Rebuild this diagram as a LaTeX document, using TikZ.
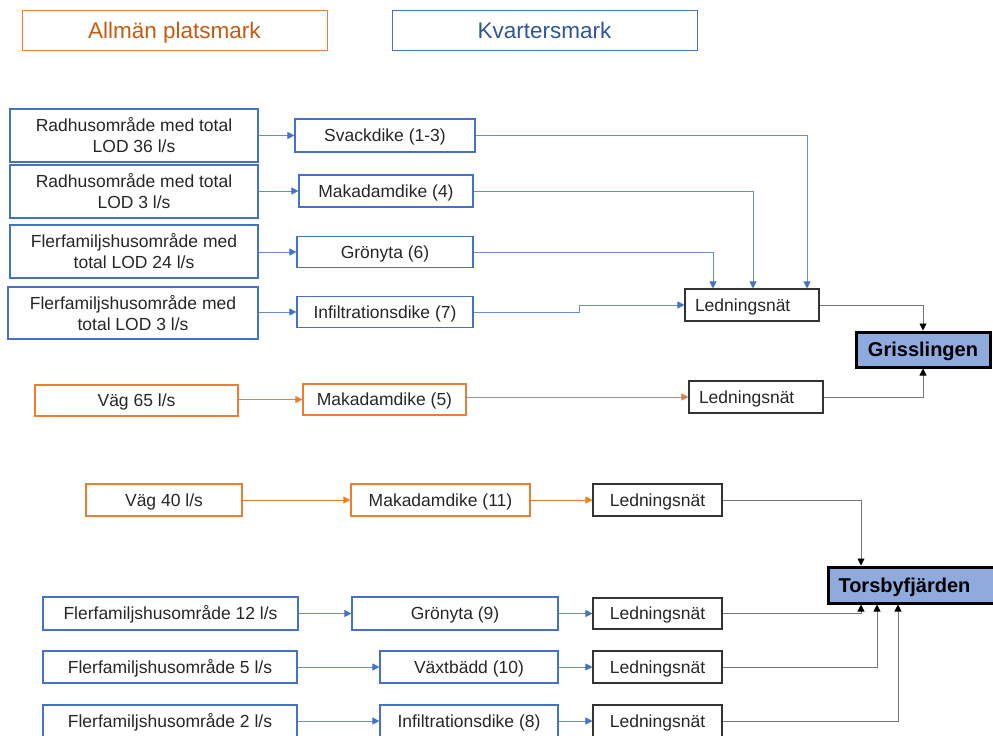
\documentclass[tikz,border=0pt]{standalone}
\usepackage{fontspec}
\setmainfont{Liberation Sans}
\usepackage{xcolor}
\definecolor{kvblue}{RGB}{68,114,196}
\definecolor{kvdark}{RGB}{47,85,151}
\definecolor{plorange}{RGB}{237,125,49}
\definecolor{pldark}{RGB}{197,90,17}
\definecolor{netgray}{RGB}{118,118,118}
\definecolor{recfill}{RGB}{143,170,220}
\usepackage{tikz}
\usetikzlibrary{arrows.meta}
\newcommand{\txtsize}{\fontsize{17.5}{21}\selectfont}
\newcommand{\headsize}{\fontsize{22.5}{26}\selectfont}
\newcommand{\recsize}{\fontsize{20}{24}\selectfont\bfseries}
\tikzset{
    common/.style={draw, rectangle, inner sep=0pt, font=\txtsize, text=black!85},
    one/.style={text height=12.6pt, text depth=0pt},
    kvbox/.style={common, draw=kvblue, line width=1.2pt},
    srcbox/.style={kvbox, align=center},
    kvline/.style={kvbox, one},
    plbox/.style={common, one, draw=plorange, line width=1.2pt},
    netbox/.style={common, one, draw=black!80, line width=1.1pt},
    netleft/.style={netbox, align=left, inner xsep=10pt},
    recipient/.style={common, draw=black, fill=recfill, line width=3pt, font=\recsize, text=black, text height=14.4pt, text depth=0pt},
    headbox/.style={common, line width=1pt, font=\headsize, text height=16.2pt, text depth=0pt, minimum width=305pt, minimum height=40pt},
    blueflow/.style={draw=kvblue!80, line width=0.9pt, -{Triangle[length=7pt, width=7pt, color=kvblue]}},
    orangeflow/.style={draw=plorange, line width=0.9pt, -{Triangle[length=7pt, width=7pt, color=plorange]}},
    netflow/.style={draw=netgray, line width=0.9pt, -{Triangle[length=7pt, width=7pt, color=black]}}
}
\begin{document}
\begin{tikzpicture}[x=1pt, y=-1pt]
    \useasboundingbox (0,0) rectangle (993,736);

    \node[headbox, draw=plorange, text=pldark] (hpl) at (174.5,30) {Allmän platsmark};
    \node[headbox, draw=kvblue, text=kvdark] (hkv) at (544.5,30) {Kvartersmark};

    \node[srcbox, minimum width=248pt, minimum height=53pt] (src1) at (134,135.5) {Radhusområde med total\\LOD 36 l/s};
    \node[srcbox, minimum width=248pt, minimum height=53pt] (src2) at (134,191.5) {Radhusområde med total\\LOD 3 l/s};
    \node[srcbox, minimum width=248pt, minimum height=53pt] (src3) at (134,251.5) {Flerfamiljshusområde med\\total LOD 24 l/s};
    \node[srcbox, minimum width=250pt, minimum height=52pt] (src4) at (133,313) {Flerfamiljshusområde med\\total LOD 3 l/s};

    \node[kvline, minimum width=180pt, minimum height=33pt] (mid1) at (385,135.5) {Svackdike (1-3)};
    \node[kvline, minimum width=174pt, minimum height=32pt] (mid2) at (386,191) {Makadamdike (4)};
    \node[kvline, minimum width=176pt, minimum height=31pt] (mid3) at (385,252) {Grönyta (6)};
    \node[kvline, minimum width=176pt, minimum height=31pt] (mid4) at (385,312) {Infiltrationsdike (7)};

    \node[netleft, text width=114pt, minimum height=32pt] (net1) at (752,305) {Ledningsnät};
    \node[recipient, minimum width=134pt, minimum height=35pt] (gris) at (923,349.5) {Grisslingen};

    \node[plbox, minimum width=203pt, minimum height=31pt] (road1) at (136.5,400.5) {Väg 65 l/s};
    \node[plbox, minimum width=163pt, minimum height=31pt] (mid5) at (384.5,399.5) {Makadamdike (5)};
    \node[netleft, text width=114pt, minimum height=32pt] (net2) at (756,397) {Ledningsnät};

    \draw[blueflow] (src1.east |- mid1.west) -- (mid1.west);
    \draw[blueflow] (src2.east |- mid2.west) -- (mid2.west);
    \draw[blueflow] (src3.east |- mid3.west) -- (mid3.west);
    \draw[blueflow] (src4.east |- mid4.west) -- (mid4.west);
    \draw[blueflow] (mid1.east) -| ([xshift=55pt]net1.north);
    \draw[blueflow] (mid2.east) -| ([xshift=1pt]net1.north);
    \draw[blueflow] (mid3.east) -| ([xshift=-39pt]net1.north);
    \draw[blueflow] (mid4.east) -- ++(106,0) |- (net1.west);
    \draw[orangeflow] (road1.east |- mid5.west) -- (mid5.west);
    \draw[orangeflow] (mid5.east |- net2.west) -- (net2.west);
    \draw[netflow] (net1.east) -| (gris.north);
    \draw[netflow] (net2.east) -| (gris.south);

    \node[plbox, minimum width=156pt, minimum height=32pt] (road2) at (164,500) {Väg 40 l/s};
    \node[plbox, minimum width=179pt, minimum height=32pt] (mid11) at (440.5,500) {Makadamdike (11)};
    \node[netbox, minimum width=129pt, minimum height=32pt] (netA) at (657.5,500) {Ledningsnät};

    \node[recipient, anchor=west, align=left, text width=155pt, inner xsep=10pt, minimum height=36pt] (tors) at (827,585) {Torsbyfjärden};

    \node[kvline, minimum width=255pt, minimum height=33pt] (area12) at (170.5,613.5) {Flerfamiljshusområde 12 l/s};
    \node[kvline, minimum width=206pt, minimum height=33pt] (mid9) at (455,613.5) {Grönyta (9)};
    \node[netbox, minimum width=129pt, minimum height=31pt] (netB) at (657.5,613.5) {Ledningsnät};

    \node[kvline, minimum width=254pt, minimum height=32pt] (area5) at (170,667) {Flerfamiljshusområde 5 l/s};
    \node[kvline, minimum width=178pt, minimum height=32pt] (mid10) at (469,667) {Växtbädd (10)};
    \node[netbox, minimum width=129pt, minimum height=32pt] (netC) at (657.5,667) {Ledningsnät};

    \node[kvline, minimum width=254pt, minimum height=32pt] (area2) at (170,721) {Flerfamiljshusområde 2 l/s};
    \node[kvline, minimum width=178pt, minimum height=32pt] (mid8) at (469,721) {Infiltrationsdike (8)};
    \node[netbox, minimum width=129pt, minimum height=32pt] (netD) at (657.5,721) {Ledningsnät};

    \draw[orangeflow] (road2) -- (mid11);
    \draw[orangeflow] (mid11) -- (netA);
    \draw[blueflow] (area12) -- (mid9);
    \draw[blueflow] (mid9) -- (netB);
    \draw[blueflow] (area5) -- (mid10);
    \draw[blueflow] (mid10) -- (netC);
    \draw[blueflow] (area2) -- (mid8);
    \draw[blueflow] (mid8) -- (netD);
    \draw[netflow] (netA.east) -| ([xshift=34pt]tors.north west);
    \draw[netflow] (netB.east) -| ([xshift=34pt]tors.south west);
    \draw[netflow] (netC.east) -| ([xshift=50pt]tors.south west);
    \draw[netflow] (netD.east) -| ([xshift=71pt]tors.south west);
\end{tikzpicture}
\end{document}
